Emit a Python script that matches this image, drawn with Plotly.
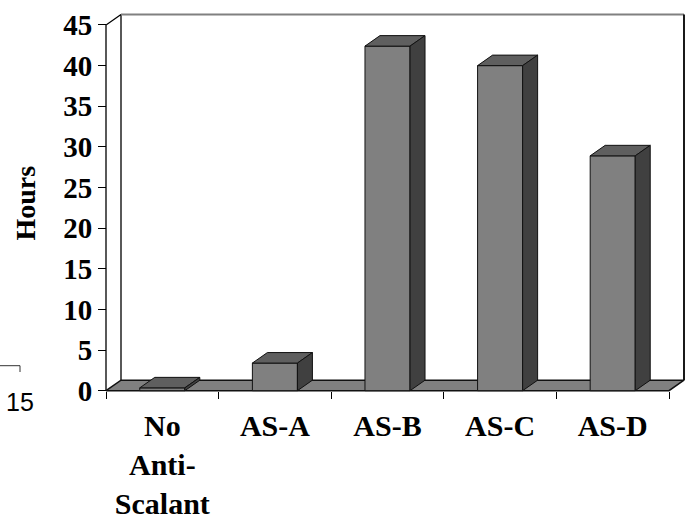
import plotly.graph_objects as go

# ---- data -------------------------------------------------------------
categories = ["No<br>Anti-<br>Scalant", "AS-A", "AS-B", "AS-C", "AS-D"]
hours = [0.35, 3.4, 42.4, 40.0, 28.9]
y_ticks = [0, 5, 10, 15, 20, 25, 30, 35, 40, 45]
y_top = 45

# ---- page geometry (pixels) -------------------------------------------
W, H = 689, 519
M_L, M_R, M_T, M_B = 100, 2, 8, 125
AXIS_X_PX = 106.0      # pixel column of the front value axis
ZERO_Y_PX = 390.7      # pixel row of value 0
CAT_PX = 112.6         # pixels per category slot
UNIT_PX = 8.127        # pixels per hour

plot_w = W - M_L - M_R
plot_h = H - M_T - M_B
x_min = (M_L - AXIS_X_PX) / CAT_PX
x_max = (M_L + plot_w - AXIS_X_PX) / CAT_PX
y_min = -((H - M_B) - ZERO_Y_PX) / UNIT_PX
y_max = (ZERO_Y_PX - M_T) / UNIT_PX

# 3-D depth offset expressed in data units
DX = 15.0 / CAT_PX
DY = 10.5 / UNIT_PX
HALF = 0.2             # half bar width in category units

FRONT, TOP, SIDE = "#808080", "#5f5f5f", "#404040"
EDGE = "#111111"
SERIF = "Liberation Serif"

fig = go.Figure()


def poly(xs, ys, fill, line_color=EDGE, width=1.0, closed=True):
    if closed:
        xs = list(xs) + [xs[0]]
        ys = list(ys) + [ys[0]]
    fig.add_trace(go.Scatter(
        x=xs, y=ys, mode="lines",
        fill="toself" if fill else None,
        fillcolor=fill,
        line=dict(color=line_color, width=width),
        hoverinfo="skip", showlegend=False,
    ))


n = len(categories)

# back wall and left wall
poly([DX, n + DX, n + DX, DX], [DY, DY, y_top + DY, y_top + DY], "white", "white", 0)
poly([0, DX, DX, 0], [0, DY, y_top + DY, y_top], "white", "white", 0)
# frame edges
poly([0, 0, DX, DX], [0, y_top, y_top + DY, DY], None, "#000000", 1.3, closed=False)
poly([DX, n + DX], [y_top + DY, y_top + DY], None, "#808080", 2.0, closed=False)
poly([n + DX, n + DX], [DY, y_top + DY], None, "#000000", 1.8, closed=False)

# floor
poly([0, n, n + DX, DX], [0, 0, DY, DY], "#808080", EDGE, 1.5)

# bars: front, top and side faces
for i, v in enumerate(hours):
    c = i + 0.5
    l, r = c - HALF, c + HALF
    poly([l, r, r, l], [0, 0, v, v], FRONT)
    poly([l, r, r + DX, l + DX], [v, v, v + DY, v + DY], TOP)
    poly([r, r + DX, r + DX, r], [0, DY, v + DY, v], SIDE)

fig.update_layout(
    width=W, height=H,
    margin=dict(l=M_L, r=M_R, t=M_T, b=M_B),
    paper_bgcolor="white", plot_bgcolor="white",
    font=dict(family=SERIF, size=28, color="#000000", weight="bold"),
    showlegend=False,
    annotations=[
        dict(text="Hours", textangle=-90, showarrow=False,
             xref="paper", yref="paper",
             x=(24.5 - M_L) / plot_w, y=((H - M_B) - 203) / plot_h,
             xanchor="center", yanchor="middle",
             font=dict(family=SERIF, size=28, weight="bold")),
        dict(text="15", showarrow=False, xref="paper", yref="paper",
             x=(20 - M_L) / plot_w, y=((H - M_B) - 402) / plot_h,
             xanchor="center", yanchor="middle",
             font=dict(family="Liberation Sans", size=25, weight="normal")),
    ],
    shapes=[
        dict(type="path", xref="paper", yref="paper",
             path="M {x0},{y0} L {x1},{y0} L {x1},{y1}".format(
                 x0=(0 - M_L) / plot_w, x1=(20 - M_L) / plot_w,
                 y0=((H - M_B) - 365.7) / plot_h, y1=((H - M_B) - 372) / plot_h),
             line=dict(color="#333333", width=1)),
    ],
)

fig.update_xaxes(
    range=[x_min, x_max], anchor="free",
    position=((H - M_B) - ZERO_Y_PX) / plot_h,
    tickmode="array",
    tickvals=[i + 0.5 for i in range(n)], ticktext=categories,
    ticks="", ticklabelstandoff=14,
    tickfont_family=SERIF, tickfont_size=30, tickfont_weight="bold",
    tickfont_color="#000000",
    minor=dict(tickmode="linear", tick0=0, dtick=1, ticks="outside",
               ticklen=7, tickwidth=1, tickcolor="#000000", showgrid=False),
    showgrid=False, zeroline=False, showline=False, automargin=False,
    fixedrange=True,
)
fig.update_yaxes(
    range=[y_min, y_max], anchor="free",
    position=(AXIS_X_PX - M_L) / plot_w,
    tickmode="array", tickvals=y_ticks,
    ticks="outside", ticklen=8, tickwidth=1, tickcolor="#000000",
    tickfont_family=SERIF, tickfont_size=29, tickfont_weight="bold",
    tickfont_color="#000000",
    showgrid=False, zeroline=False, showline=False, automargin=False,
    fixedrange=True,
)

fig.write_html("out.html")
